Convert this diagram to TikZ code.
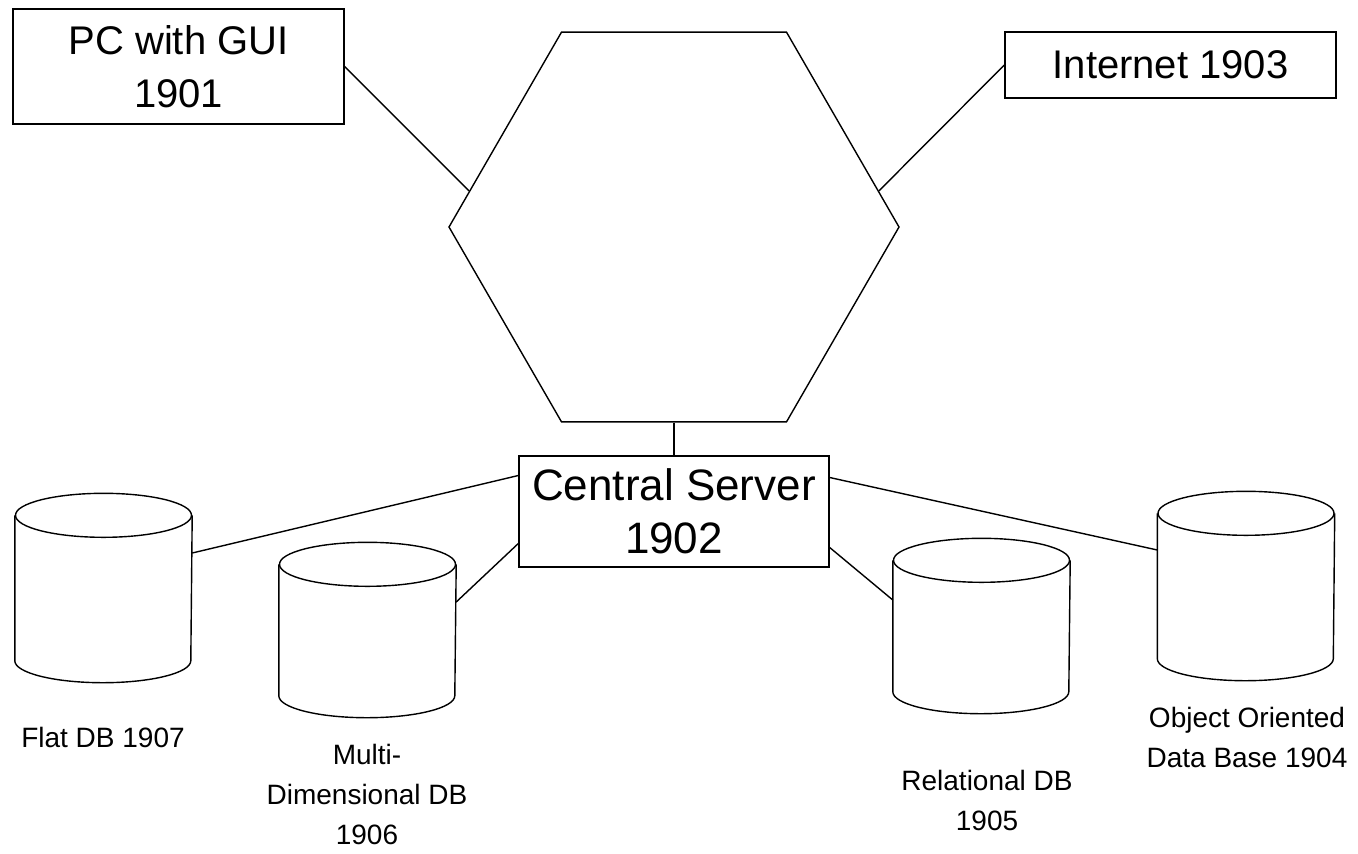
\documentclass[tikz,border=0pt]{standalone}
\usepackage{fontspec}
\setmainfont{Liberation Sans}
\usetikzlibrary{shapes.geometric, positioning}

\tikzset{
  box/.style={draw, rectangle, align=center, inner sep=0pt, font=\fontsize{20}{26.5}\selectfont},
  db/.style={rectangle, minimum width=88pt, inner sep=0pt},
  dblabel/.style={align=center, inner sep=0pt, font=\fontsize{14}{20}\selectfont}
}

\begin{document}
\begin{tikzpicture}[x=0.5pt, y=-0.5pt, line width=0.7pt]
\useasboundingbox (0,0) rectangle (1358,853);

% network and the boxes round it
\node[draw, regular polygon, regular polygon sides=6, minimum size=225pt, inner sep=0pt] (net) at (674,227) {};
\node[box, minimum width=165.5pt, minimum height=57.5pt] (pc) at (178.5,66.5) {PC with GUI\\1901};
\node[box, minimum width=165.5pt, minimum height=33pt] (inet) at (1170.5,65) {Internet 1903};
\node[box, minimum width=155pt, minimum height=55.5pt, font=\fontsize{22}{26.5}\selectfont] (server) at (674,511.5) {Central Server\\1902};

% data bases (body between the centres of the two ends)
\node[db, minimum height=72pt] (flat) at (103.5,588) {};
\node[db, minimum height=65pt] (multi) at (367.5,630) {};
\node[db, minimum height=65pt] (rel) at (981.5,626) {};
\node[db, minimum height=72pt] (obj) at (1246,586) {};

\foreach \n in {flat,multi,rel,obj} {
  \draw (\n.north) ellipse [x radius=44pt, y radius=11pt];
  \draw (\n.north west) -- (\n.south west)
    arc [start angle=180, end angle=360, x radius=44pt, y radius=11pt]
    -- (\n.north east);
}

\node[dblabel] (flatlbl) at (103,737) {Flat DB 1907};
\node[dblabel] (multilbl) at (367,794) {Multi-\\Dimensional DB\\1906};
\node[dblabel] (rellbl) at (987,800) {Relational DB\\1905};
\node[dblabel] (objlbl) at (1247,737) {Object Oriented\\Data Base 1904};

% connections
\draw (pc.east) -- (net.170);
\draw (inet.west) -- (net.10);
\draw (net.south) -- (server.north);
\draw ([yshift=17.5pt]flat.east) -- ([yshift=18pt]server.west);
\draw ([yshift=14pt]multi.east) -- ([yshift=-16pt]server.west);
\draw ([yshift=13pt]rel.west) -- ([yshift=-18pt]server.east);
\draw ([yshift=18pt]obj.west) -- ([yshift=17pt]server.east);
\end{tikzpicture}
\end{document}
